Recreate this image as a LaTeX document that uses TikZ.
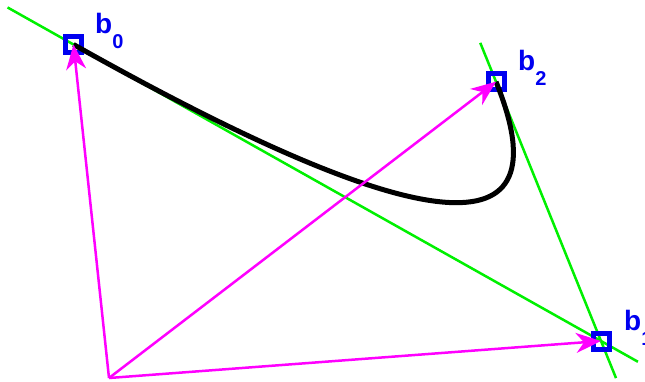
\documentclass[tikz,border=0pt]{standalone}
\usepackage{fontspec}
\setmainfont{Liberation Sans}
\usetikzlibrary{calc,arrows.meta}
\definecolor{lgreen}{RGB}{0,240,0}
\definecolor{mag}{RGB}{255,0,255}
\definecolor{pblue}{RGB}{0,0,240}
\tikzset{
  tangent/.style={lgreen,line width=2.5pt},
  vec/.style={mag,line width=2.5pt,-{Stealth[length=25pt,width=20pt,inset=8pt]}},
  ctrl/.style={draw=pblue,line width=5pt,minimum size=16pt,inner sep=0pt,shape=rectangle},
  curv/.style={black,line width=5pt},
  lbl/.style={text=pblue,anchor=base west,inner sep=0pt,font=\fontsize{28}{28}\selectfont\bfseries}
}
\newcommand{\lab}[1]{b\raisebox{-15pt}{\fontsize{20}{20}\selectfont #1}}
\begin{document}
\begin{tikzpicture}[x=1pt,y=-1pt]
\useasboundingbox (0,0) rectangle (645,381);
\coordinate (b0) at (73.5,44.5);
\coordinate (b1) at (601,341);
\coordinate (b2) at (496,81.7);
\coordinate (o) at (109,378);
% tangent lines
\draw[tangent] ($(b0)!-0.125!(b1)$) coordinate (t0s) -- ($(b0)!1.07!(b1)$) coordinate (t0e);
\draw[tangent] ($(b2)!-0.15!(b1)$) coordinate (t2s) -- ($(b2)!1.143!(b1)$) coordinate (t2e);
% control point squares
\node[ctrl] (s0) at (b0) {};
\node[ctrl] (s1) at (b1) {};
\node[ctrl] (s2) at (b2) {};
% curve (quadratic Bezier)
\draw[curv] (b0) .. controls ($(b0)!0.6667!(b1)$) and ($(b2)!0.6667!(b1)$) .. (b2);
% position vectors
\draw[vec] (o) -- (b0);
\draw[vec] (o) -- (b1);
\draw[vec] (o) -- (b2);
% labels
\node[lbl] (l0) at (95,33) {\lab{0}};
\node[lbl] (l2) at (518,70) {\lab{2}};
\node[lbl] (l1) at (624,330) {\lab{1}};
\end{tikzpicture}
\end{document}
